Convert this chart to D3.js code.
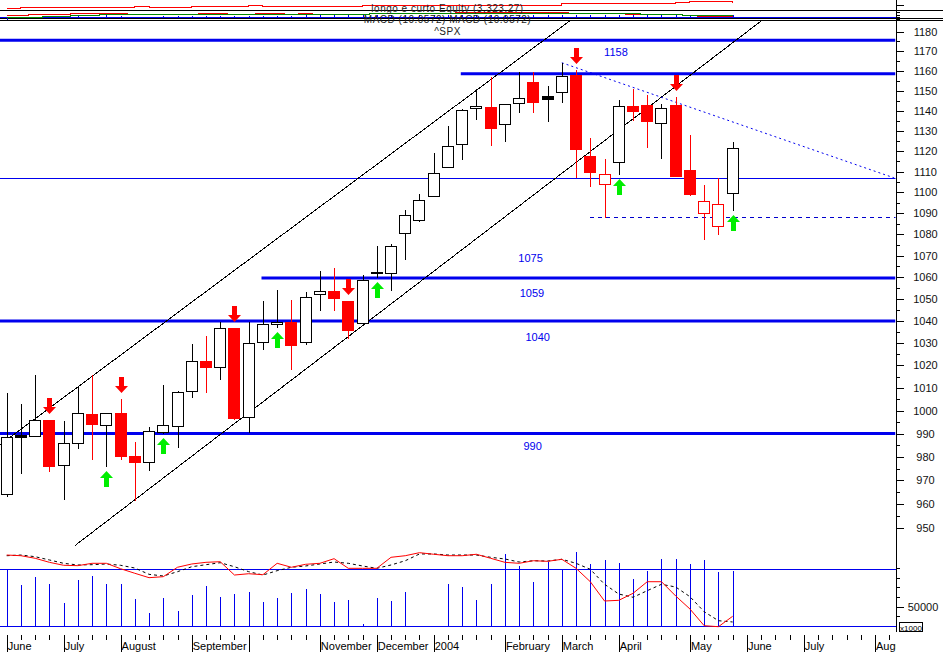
<!DOCTYPE html>
<html><head><meta charset="utf-8">
<script src="https://cdn.jsdelivr.net/npm/d3@7/dist/d3.min.js"></script>
<style>
html,body{margin:0;padding:0;background:#fff;}
svg{display:block;font-family:Arial,"Liberation Sans",sans-serif;}
</style></head><body>
<svg id="chart" width="943" height="652"></svg>
<script>
// ================= DATA =================
// weekly ^SPX bars, week 0 = first week of June 2003, week 51 = last week of May 2004
const weeks = d3.range(52);
const openP  = [964.2,989.6,988.9,996.0,976.5,985.9,998.6,993.7,999.1,980.4,978.0,990.9,993.5,1008.5,1021.8,1019.2,1036.8,997.1,1030.3,1038.7,1039.7,1030.6,1052.3,1053.5,1049.1,1039.2,1061.9,1061.9,1080.6,1086.9,1098.2,1112.4,1123.4,1141.2,1141.8,1133.2,1143.8,1154.4,1147.3,1149.5,1157.9,1117.7,1103.9,1114.9,1142.3,1142.8,1133.7,1142.8,1110.8,1090.0,1084.0,1099.6];
const highP  = [1007.9,1003.0,1015.7,996.0,995.5,1010.6,1015.7,999.2,1005.0,986.4,993.1,1011.3,1008.8,1029.4,1033.2,1039.7,1036.8,1039.7,1049.1,1054.1,1049.6,1053.3,1063.1,1064.2,1049.1,1061.1,1074.6,1075.5,1091.6,1099.1,1119.3,1132.4,1140.8,1150.7,1156.7,1143.2,1159.3,1159.3,1152.5,1164.1,1160.4,1126.3,1116.2,1145.3,1150.8,1147.8,1143.3,1147.0,1128.0,1103.6,1106.9,1124.4];
const lowP   = [963.6,973.1,988.9,974.2,962.3,984.0,979.0,976.2,979.3,961.8,974.5,990.5,984.2,1006.2,1008.4,1014.1,996.5,990.8,1027.2,1037.3,1018.4,1029.6,1045.0,1045.0,1032.1,1039.2,1060.1,1054.1,1068.5,1086.5,1098.2,1112.4,1116.0,1135.7,1123.0,1125.2,1139.5,1139.5,1135.0,1144.5,1107.3,1103.3,1088.4,1108.9,1135.4,1121.9,1116.5,1107.8,1098.8,1077.7,1080.1,1091.6];
const closeP = [988.5,988.6,996.0,976.2,985.9,998.9,994.1,998.9,980.6,978.0,991.2,993.7,1008.4,1021.8,1019.2,1036.7,997.0,1029.9,1038.6,1039.6,1029.1,1051.1,1053.8,1050.6,1035.9,1058.8,1062.6,1074.6,1089.4,1096.4,1109.2,1122.6,1140.3,1142.2,1131.6,1143.2,1146.2,1144.5,1145.7,1157.4,1120.9,1110.0,1108.8,1142.3,1140.0,1135.0,1141.2,1108.1,1099.1,1096.1,1094.3,1121.4];
// volume (x1000)
const volume = [88800,72500,81100,73800,54100,77700,82100,73800,73800,58000,43800,59000,45900,62400,71800,60400,63500,65500,55200,59300,64500,68300,63500,55200,56900,32400,59300,56200,65500,27000,28500,73800,70400,56900,73800,104600,92500,75600,96600,88800,107000,94300,98400,95300,78400,87000,99400,99400,94300,98400,86000,87000];
// stochastic %K (red) and %D (black dashed)
const stochK = [94.7,93.8,90.4,85.1,81.2,80.7,83.8,83.8,76.7,70.7,64.9,66.2,78.6,82.9,85.1,85.9,68.4,70.1,68.8,83.8,78.6,82.5,83.8,89.9,77.2,77.2,77.2,91.7,93.8,97.8,95.7,93.8,93.8,95.7,90.4,85.1,83.8,87.2,86.4,89.1,77.2,59.6,34.2,35.1,44.3,59.6,59.6,40.8,23.7,1.7,0.4,14.1];
const stochD = [93.8,94.7,92.5,88.2,83.8,81.6,82.0,82.9,81.2,77.6,69.3,67.1,72.8,79.3,82.0,84.6,79.3,72.8,68.4,74.1,78.6,80.3,82.9,85.5,83.8,80.3,77.2,81.6,87.2,96.1,96.1,94.7,94.7,94.7,91.7,89.5,85.5,87.2,86.8,89.1,83.8,75.9,56.2,43.4,39.1,47.8,56.2,52.6,39.9,20.1,8.3,6.6];
// equity curve of "longo e curto"
const equity = [2783,2883,2883,2883,2883,2883,2883,2883,2883,2953,2883,2883,2883,2953,2953,2953,2953,3053,2983,2983,2983,2983,2983,2983,2983,3053,3053,3053,3053,3053,3053,3053,3053,3053,3053,3053,3053,3053,3053,3253,3253,3253,3253,3253,3253,3253,3253,3323,3423,3423,3423,3323.27];
// MACD line, signal line, histogram
const macdLine = [20,20,30,30,30,37,37,37,37,27,27,27,27,27,37,37,27,27,37,37,27,37,30,30,30,30,43,43,43,43,43,43,53,53,53,53,53,53,53,53,43,37,37,37,30,27,27,27,20,10,10,10.06];
const macdSig  = [0,0,0,10,10,20,20,30,30,30,27,27,27,27,27,27,27,27,27,27,27,27,27,27,27,27,43,43,43,43,43,43,43,43,43,43,43,43,43,43,43,43,43,43,37,30,30,30,23,23,17,17];
const macdHist = [-20,0,0,0,0,20,0,27,20,10,10,23,23,23,23,23,23,23,23,23,23,30,30,30,30,30,30,30,30,30,30,30,30,30,30,30,30,30,30,30,30,30,30,30,30,30,30,30,30,30,30,30];
// signals
const sellWeeks = [3,8,16,24,40,47];
const buyWeeks  = [7,11,19,26,43,51];
// horizontal levels (price, first week)
const levelPrice = [1175.6,1158.5,1059.7,1040.0,990.1];
const levelFrom  = [-0.5,31.9,17.9,-0.5,-0.5];
const thinLevel = 1107.0;
const supportLevel = 1088.2, supportFrom = 41;
const levelLabels = ["1158","1075","1059","1040","990"];
// trend lines [week, price]
const upperChannel = [[-0.4703,985.2],[39.63,1186.0]];
const lowerChannel = [[4.794,942.8],[53.08,1186.0]];
const downTrend    = [[39,1164.1],[62.35,1107.0]];
// axis
const priceTicks = d3.range(950,1181,10);
const priceMinor = d3.range(955,1180,10);
const monthWeeks = [0,4,8,13,17,22,26,30,35,39,43,48,52,56,61];
const monthNames = ["June","July","August","September","October","November","December","2004","February","March","April","May","June","July","August"];

// ================= DRAW =================
const svg = d3.select("#chart");
const X = d3.scaleLinear().domain([0,61]).range([6.7,875]);
const Y = d3.scaleLog().domain([950,1180]).range([528.15,31.7]);
const YS = d3.scaleLinear().domain([0,100]).range([627,551]);
const YV = d3.scaleLinear().domain([30000,50000]).range([626,606.7]);
const YE = d3.scaleLinear().domain([2550,3550]).range([10,0]);
const YM = d3.scaleLinear().domain([-20,70]).range([19,10]);
const R = 895.5;
const px = v => Math.round(v)+0.5;
const BLUE = "#0000ee";

const defs = svg.append("defs");
defs.append("clipPath").attr("id","cm").append("rect").attr("x",0).attr("y",20.8).attr("width",R).attr("height",530);
defs.append("clipPath").attr("id","cx").append("rect").attr("x",0).attr("y",0).attr("width",896).attr("height",652);

// ---- top panels ----
const gTop = svg.append("g").attr("shape-rendering","crispEdges");
gTop.append("path").datum(weeks).attr("fill","none").attr("stroke","#ff0000")
  .attr("d", d3.line().x(i=>X(i)).y(i=>px(YE(equity[i]))).curve(d3.curveStepAfter));
[10,18.5,20.5].forEach(yy=>gTop.append("line").attr("x1",0).attr("x2",943).attr("y1",yy).attr("y2",yy).attr("stroke","#000"));
gTop.append("line").attr("x1",0).attr("x2",R).attr("y1",px(YM(0))).attr("y2",px(YM(0))).attr("stroke",BLUE);
gTop.selectAll("line.h").data(weeks.filter(i=>macdHist[i]!==0)).join("line")
  .attr("x1",i=>px(X(i))).attr("x2",i=>px(X(i))).attr("y1",px(YM(0))).attr("y2",i=>px(YM(macdHist[i]))).attr("stroke",BLUE);
gTop.append("path").datum(weeks).attr("fill","none").attr("stroke","#ee0000")
  .attr("d", d3.line().x(i=>X(i)).y(i=>px(YM(macdLine[i]))).curve(d3.curveStep));
gTop.append("path").datum(weeks).attr("fill","none").attr("stroke","#008800")
  .attr("d", d3.line().x(i=>X(i)).y(i=>px(YM(macdSig[i]))).curve(d3.curveStep));

const titles = ["longo e curto Equity (3,323.27)","MACD (10.0572) MACD (10.0572)","^SPX"];
const titleY = [12.3,23.4,34.6];
titles.forEach((t,k)=>svg.append("text").attr("x",447.5).attr("y",titleY[k]).attr("text-anchor","middle")
  .attr("font-size",10).attr("letter-spacing",0.5).attr("fill","#222").text(t));

// ---- main panel ----
const gm = svg.append("g").attr("clip-path","url(#cm)");
levelPrice.forEach((p,k)=>gm.append("line").attr("x1",X(levelFrom[k])).attr("x2",R)
  .attr("y1",Y(p)).attr("y2",Y(p)).attr("stroke",BLUE).attr("stroke-width",3));
gm.append("line").attr("x1",0).attr("x2",R).attr("y1",px(Y(thinLevel))).attr("y2",px(Y(thinLevel))).attr("stroke",BLUE).attr("shape-rendering","crispEdges");
gm.append("line").attr("x1",X(supportFrom)).attr("x2",R).attr("y1",px(Y(supportLevel))).attr("y2",px(Y(supportLevel)))
  .attr("stroke","#0000cc").attr("stroke-dasharray","4,4").attr("shape-rendering","crispEdges");
const tl = d3.line().x(d=>X(d[0])).y(d=>Y(d[1]));
[upperChannel,lowerChannel].forEach(c=>gm.append("path").attr("d",tl(c)).attr("stroke","#000").attr("fill","none").attr("stroke-width",1).attr("shape-rendering","crispEdges"));
gm.append("path").attr("d",tl(downTrend)).attr("stroke",BLUE).attr("fill","none").attr("stroke-dasharray","2,3");

const candles = weeks.map(i=>{
  const o=openP[i],h=highP[i],l=lowP[i],c=closeP[i];
  const prev = i>0?closeP[i-1]:o;
  return {i,o,h,l,c,color: c<prev?"#ff0000":"#000000", hollow: c>=o};
});
const gc = gm.append("g").attr("shape-rendering","crispEdges");
gc.selectAll("line.w").data(candles).join("line")
  .attr("x1",d=>px(X(d.i))).attr("x2",d=>px(X(d.i)))
  .attr("y1",d=>Math.round(Y(d.h))).attr("y2",d=>Math.round(Y(d.l))+1).attr("stroke",d=>d.color);
gc.selectAll("rect.b").data(candles).join("rect")
  .attr("x",d=>Math.round(X(d.i))-5.5)
  .attr("y",d=>Math.round(Y(Math.max(d.o,d.c)))+0.5)
  .attr("width",11)
  .attr("height",d=>Math.max(1,Math.round(Y(Math.min(d.o,d.c)))-Math.round(Y(Math.max(d.o,d.c)))))
  .attr("fill",d=>d.hollow?"#fff":d.color).attr("stroke",d=>d.color);

function arrow(cx,ty,s){
  const pts=[[cx-2.5,ty-16*s],[cx+2.5,ty-16*s],[cx+2.5,ty-7*s],[cx+6.5,ty-7*s],[cx,ty],[cx-6.5,ty-7*s],[cx-2.5,ty-7*s]];
  return "M"+pts.map(p=>p.join(",")).join("L")+"Z";
}
gm.selectAll("path.sell").data(sellWeeks).join("path")
  .attr("d",i=>arrow(Math.round(X(i))+0.5,Math.round(Y(highP[i]))-6,1)).attr("fill","#ff0000");
gm.selectAll("path.buy").data(buyWeeks).join("path")
  .attr("d",i=>arrow(Math.round(X(i))+0.5,Math.round(Y(lowP[i]))+5,-1)).attr("fill","#00ee00");

const labelWeek = [42.8,36.8,36.9,37.3,36.95];
const labelOff = [-18,-15.5,19.5,20,17];
const labelRef = [1158.5,1059.7,1059.7,1040.0,990.1];
levelLabels.forEach((t,k)=>svg.append("text").attr("x",X(labelWeek[k])).attr("y",Y(labelRef[k])+labelOff[k])
  .attr("text-anchor","middle").attr("font-size",11).attr("fill",BLUE).text(t));

// ---- bottom panel ----
const gb = svg.append("g").attr("shape-rendering","crispEdges");
[569,626].forEach(yy=>gb.append("line").attr("x1",0).attr("x2",R).attr("y1",yy+0.5).attr("y2",yy+0.5).attr("stroke",BLUE));
gb.selectAll("line.v").data(weeks.filter(i=>volume[i]>30000)).join("line")
  .attr("x1",i=>px(X(i))).attr("x2",i=>px(X(i))).attr("y1",626).attr("y2",i=>Math.round(YV(volume[i]))).attr("stroke",BLUE);
svg.append("path").datum(weeks).attr("fill","none").attr("stroke","#000").attr("stroke-dasharray","3,3")
  .attr("d",d3.line().x(i=>X(i)).y(i=>YS(stochD[i])));
svg.append("path").datum(weeks).attr("fill","none").attr("stroke","#ff0000")
  .attr("d",d3.line().x(i=>X(i)).y(i=>YS(stochK[i])));

// ---- right axis ----
const ax = svg.append("g").attr("shape-rendering","crispEdges");
ax.append("line").attr("x1",896.5).attr("x2",896.5).attr("y1",0).attr("y2",632).attr("stroke","#000");
ax.selectAll("line.mt").data(priceTicks).join("line").attr("x1",896).attr("x2",904)
  .attr("y1",d=>px(Y(d))).attr("y2",d=>px(Y(d))).attr("stroke","#000");
ax.selectAll("line.nt").data(priceMinor).join("line").attr("x1",896).attr("x2",900)
  .attr("y1",d=>px(Y(d))).attr("y2",d=>px(Y(d))).attr("stroke","#000");
svg.selectAll("text.pl").data(priceTicks).join("text").attr("x",925.5).attr("y",d=>Y(d)+4)
  .attr("text-anchor","middle").attr("font-size",11).attr("fill","#111").text(d=>d);
[5,12,15,17,19].forEach((yy,k)=>ax.append("line").attr("x1",896).attr("x2",k===0?904:900).attr("y1",yy+0.5).attr("y2",yy+0.5).attr("stroke","#000"));
const volTicks = [40000,50000,60000,70000,80000,90000];
ax.selectAll("line.vt").data(volTicks).join("line").attr("x1",896).attr("x2",d=>d===50000?904:900)
  .attr("y1",d=>px(YV(d))).attr("y2",d=>px(YV(d))).attr("stroke","#000");
svg.append("text").attr("x",923).attr("y",YV(50000)+4).attr("text-anchor","middle").attr("font-size",11).attr("fill","#111").text("50000");
ax.append("rect").attr("x",899.5).attr("y",622.5).attr("width",23).attr("height",9).attr("fill","#fff").attr("stroke","#000");
svg.append("text").attr("x",911).attr("y",630.5).attr("text-anchor","middle").attr("font-size",8).attr("fill","#000").text("x1000");

// ---- bottom axis ----
const bx = svg.append("g").attr("shape-rendering","crispEdges");
bx.selectAll("line.wt").data(d3.range(0,63)).join("line").attr("x1",i=>px(X(i))).attr("x2",i=>px(X(i)))
  .attr("y1",635).attr("y2",i=>monthWeeks.includes(i)?652:640).attr("stroke","#000");
const gl = svg.append("g").attr("clip-path","url(#cx)");
let lastEnd = -100;
monthWeeks.forEach((w,k)=>{
  const xx = X(w)+1;
  const t = gl.append("text").attr("x",xx).attr("y",650).attr("font-size",11).attr("fill","#000").text(monthNames[k]);
  if (xx < lastEnd + 6) { t.remove(); return; }
  lastEnd = xx + t.node().getComputedTextLength();
});
</script>
</body></html>
